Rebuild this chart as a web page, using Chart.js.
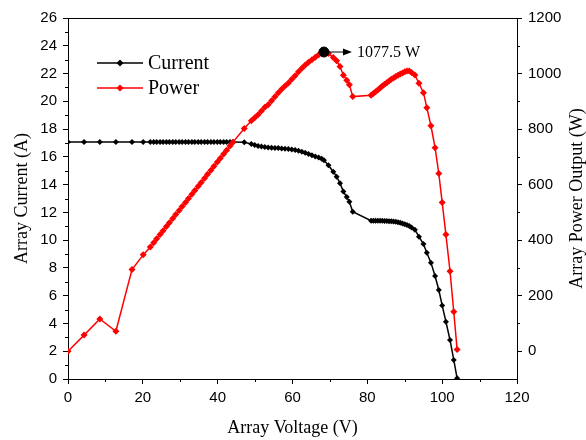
<!DOCTYPE html>
<html>
<head>
<meta charset="utf-8">
<script src="https://cdn.jsdelivr.net/npm/chart.js@4"></script>
<style>
  html, body { margin: 0; padding: 0; background: #fff; }
  #wrap { width: 586px; height: 440px; }
</style>
</head>
<body>
<div id="wrap"><canvas id="graficoIV"></canvas></div>
<script>
// array voltage (V), shared by both curves
const voltage = [
  0, 4.3, 8.5, 12.8, 17.1, 20.1,
  22.0, 22.9, 23.7, 24.6, 25.4, 26.3, 27.1, 28.0, 28.8, 29.7, 30.5, 31.4, 32.2, 33.1,
  33.9, 34.8, 35.6, 36.5, 37.3, 38.2, 39.0, 39.9, 40.7, 41.6, 42.4, 43.3, 44.1,
  47.1,
  49.0, 49.9, 50.8, 51.7, 52.6, 53.5, 54.4, 55.3, 56.2, 57.1, 58.0, 58.9, 59.8, 60.7,
  61.6, 62.5, 63.4, 64.3, 65.2, 66.1, 67.0, 67.8, 68.4,
  69.6, 70.9, 71.8, 72.7, 73.6, 74.5, 75.2, 76.1,
  81.0, 81.6, 82.2, 82.8, 83.4, 84.0, 84.6, 85.2, 85.8, 86.4, 87.0, 87.6, 88.2, 88.8,
  89.4, 90.0, 90.6, 91.2, 91.8,
  92.7, 93.8, 95.0, 95.9, 97.0, 98.1, 99.1, 100.0, 101.0, 102.1, 103.1, 104.0
];
// array current (A)
const current = [
  17.07, 17.07, 17.07, 17.07, 17.07, 17.07,
  17.07, 17.07, 17.07, 17.07, 17.07, 17.07, 17.07, 17.07, 17.07, 17.07, 17.07, 17.07, 17.07, 17.07,
  17.07, 17.07, 17.07, 17.07, 17.07, 17.07, 17.07, 17.07, 17.07, 17.07, 17.07, 17.07, 17.07,
  17.05,
  16.93, 16.85, 16.78, 16.74, 16.71, 16.68, 16.66, 16.64, 16.63, 16.61, 16.59, 16.57, 16.53, 16.49,
  16.44, 16.37, 16.29, 16.21, 16.12, 16.03, 15.95, 15.86, 15.75,
  15.40, 14.93, 14.57, 14.10, 13.50, 13.10, 12.77, 12.05,
  11.40, 11.40, 11.40, 11.39, 11.39, 11.39, 11.38, 11.38, 11.37, 11.36, 11.34, 11.32, 11.29, 11.25,
  11.20, 11.15, 11.10, 11.02, 10.92,
  10.75, 10.25, 9.72, 9.10, 8.38, 7.42, 6.41, 5.30, 4.13, 2.81, 1.37, 0.05
];
// array power output (W)
const power = [
  0, 58, 116, 72, 294, 347,
  375, 391, 405, 420, 434, 449, 463, 478, 492, 507, 521, 536, 550, 565,
  579, 594, 608, 623, 637, 652, 666, 681, 695, 710, 724, 739, 753,
  802,
  830, 841, 852, 865, 879, 888, 902, 916, 931, 943, 955, 966, 979, 992,
  1006, 1019, 1031, 1041, 1050, 1059, 1068, 1074, 1077.5,
  1072, 1058, 1046, 1025, 994, 976, 960, 917,
  922, 928, 934, 941, 948, 955, 961, 967, 973, 979, 984, 989, 994, 998,
  1002, 1006, 1009, 1009, 1004,
  995, 965, 931, 877, 812, 733, 640, 536, 420, 288, 142, 6
];
const peakVoltage = 68.4;
const peakPower = 1077.5;
const peakLabel = '1077.5 W';
const powerTicks = [0, 200, 400, 600, 800, 1000, 1200];

const serif = '"Liberation Serif", "Times New Roman", serif';
const sans = '"Liberation Sans", Arial, sans-serif';

// top border, minor ticks, axis titles, legend and the peak arrow
const extras = {
  id: 'extras',
  afterDraw(chart) {
    const c = chart.ctx;
    const a = chart.chartArea;
    const sx = chart.scales.x, sy = chart.scales.y, sp = chart.scales.y1;
    c.save();
    c.strokeStyle = '#000';
    c.lineWidth = 1;
    c.beginPath();
    c.moveTo(a.left, a.top + 0.5); c.lineTo(a.right, a.top + 0.5);
    for (let v = 1; v < 26; v += 2) {
      const y = Math.round(sy.getPixelForValue(v)) + 0.5;
      c.moveTo(a.left, y); c.lineTo(a.left - 3, y);
    }
    for (let v = 100; v < 1200; v += 200) {
      const y = Math.round(sp.getPixelForValue(v)) + 0.5;
      c.moveTo(a.right, y); c.lineTo(a.right + 3, y);
    }
    for (let v = 10; v < 120; v += 20) {
      const x = Math.round(sx.getPixelForValue(v)) + 0.5;
      c.moveTo(x, a.bottom); c.lineTo(x, a.bottom + 3);
    }
    c.stroke();

    c.fillStyle = '#000';
    c.font = '18px ' + serif;
    c.textAlign = 'center';
    c.textBaseline = 'middle';
    c.fillText('Array Voltage (V)', (a.left + a.right) / 2, 428);
    const midY = (a.top + a.bottom) / 2;
    c.save();
    c.translate(22, midY); c.rotate(-Math.PI / 2);
    c.fillText('Array Current (A)', 0, 0);
    c.restore();
    c.save();
    c.translate(577, midY); c.rotate(-Math.PI / 2);
    c.fillText('Array Power Output (W)', 0, 0);
    c.restore();

    // legend
    const items = [
      { label: 'Current', color: '#000', y: 63 },
      { label: 'Power', color: '#ff0000', y: 88 }
    ];
    c.font = '20px ' + serif;
    c.textAlign = 'left';
    items.forEach(it => {
      c.strokeStyle = it.color; c.fillStyle = it.color; c.lineWidth = 1.5;
      c.beginPath(); c.moveTo(97, it.y); c.lineTo(143, it.y); c.stroke();
      c.beginPath();
      c.moveTo(120, it.y - 3.5); c.lineTo(123.5, it.y); c.lineTo(120, it.y + 3.5); c.lineTo(116.5, it.y);
      c.closePath(); c.fill();
      c.fillStyle = '#000';
      c.fillText(it.label, 148, it.y + 1);
    });

    // arrow to peak label
    const px = sx.getPixelForValue(peakVoltage);
    const py = sp.getPixelForValue(peakPower);
    const tip = px + 28;
    c.strokeStyle = '#000'; c.fillStyle = '#000'; c.lineWidth = 1;
    c.beginPath(); c.moveTo(px, py); c.lineTo(tip - 8, py); c.stroke();
    c.beginPath(); c.moveTo(tip, py); c.lineTo(tip - 9, py - 3.5); c.lineTo(tip - 9, py + 3.5); c.closePath(); c.fill();
    c.font = '16px ' + serif;
    c.textBaseline = 'middle';
    c.fillText(peakLabel, tip + 5, py + 1);
    c.restore();
  }
};

const ctx = document.getElementById('graficoIV').getContext('2d');
const grafico = new Chart(ctx, {
  type: 'line',
  data: {
    datasets: [
      {
        label: 'Current',
        data: voltage.map((v, i) => ({ x: v, y: current[i] })),
        yAxisID: 'y',
        borderColor: '#000',
        backgroundColor: '#000',
        borderWidth: 1.5,
        pointStyle: 'rectRot',
        pointRadius: 3,
        pointBorderWidth: 0,
        order: 2
      },
      {
        label: 'Power',
        data: voltage.map((v, i) => ({ x: v, y: power[i] })),
        yAxisID: 'y1',
        borderColor: '#ff0000',
        backgroundColor: '#ff0000',
        borderWidth: 1.5,
        pointStyle: 'rectRot',
        pointRadius: 3.5,
        pointBorderWidth: 0,
        order: 1
      },
      {
        label: 'Peak',
        data: [{ x: peakVoltage, y: peakPower }],
        yAxisID: 'y1',
        showLine: false,
        backgroundColor: '#000',
        borderColor: '#000',
        pointStyle: 'circle',
        pointRadius: 5,
        order: 0
      }
    ]
  },
  options: {
    responsive: true,
    maintainAspectRatio: false,
    animation: false,
    layout: { padding: { top: 18, left: 0, right: 0, bottom: 0 } },
    plugins: {
      legend: { display: false },
      tooltip: { enabled: false }
    },
    scales: {
      x: {
        type: 'linear',
        min: 0, max: 120,
        ticks: { stepSize: 20, color: '#000', font: { family: sans, size: 15 }, padding: 5, maxRotation: 0 },
        grid: { drawOnChartArea: false, tickLength: 5, color: '#000' },
        border: { color: '#000' },
        afterFit: s => { s.height = 61; }
      },
      y: {
        position: 'left',
        min: 0, max: 26,
        ticks: { stepSize: 2, color: '#000', font: { family: sans, size: 15 }, padding: 6 },
        grid: { drawOnChartArea: false, tickLength: 5, color: '#000' },
        border: { color: '#000' },
        afterFit: s => { s.width = 68; }
      },
      y1: {
        position: 'right',
        min: -100, max: 1200,
        ticks: { color: '#000', font: { family: sans, size: 15 }, padding: 6, callback: v => String(v) },
        afterBuildTicks: s => { s.ticks = powerTicks.map(v => ({ value: v })); },
        grid: { drawOnChartArea: false, tickLength: 5, color: '#000' },
        border: { color: '#000' },
        afterFit: s => { s.width = 69; }
      }
    }
  },
  plugins: [extras]
});
</script>
</body>
</html>
